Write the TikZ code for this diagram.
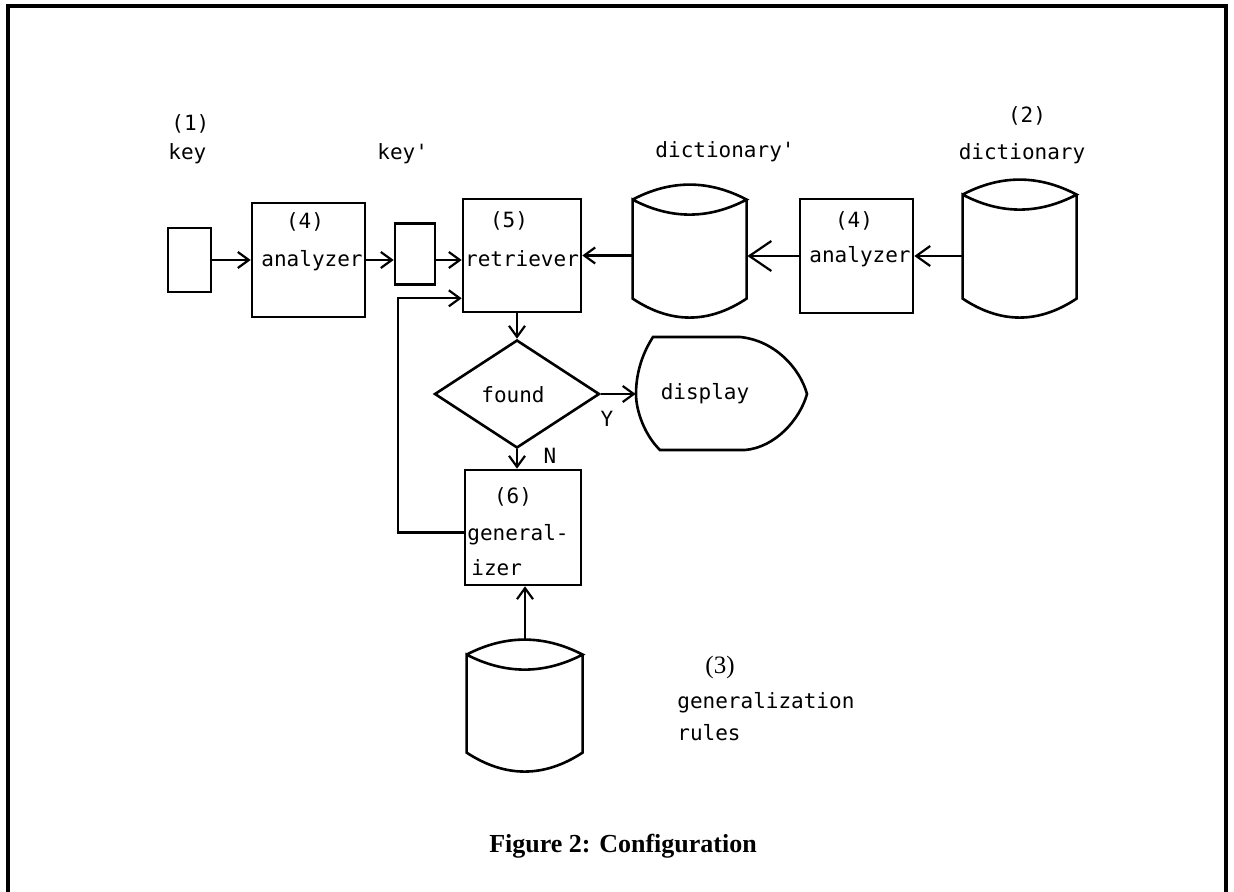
\documentclass[tikz,border=0pt]{standalone}
\usepackage{fontspec}
\setmainfont{Liberation Serif}
\newfontfamily\monof{DejaVu Sans Mono}
\usetikzlibrary{arrows.meta,shapes.geometric,calc}
\newcommand\drumshape[3]{%
  \draw[lw,shift={(#1.north west)}] (0,15) .. controls (#2/3,-5) and (2*#2/3,-5) .. (#2,15)
    .. controls (2*#2/3,35) and (#2/3,35) .. (0,15)
    -- (0,#3-19) .. controls (#2/3,#3+6.3) and (2*#2/3,#3+6.3) .. (#2,#3-19) -- (#2,15);}
\begin{document}
\begin{tikzpicture}[x=0.5pt,y=-0.5pt,
  lw/.style={line width=1.3pt},
  box/.style={draw,line width=1.3pt,inner sep=0pt,rectangle},
  hidden/.style={inner sep=0pt,rectangle},
  txt/.style={font=\monof\fontsize{10.5pt}{12pt}\selectfont,inner sep=0pt,anchor=base},
  arr/.style={line width=1.1pt,-{Straight Barb[length=5.5pt,width=8pt,line width=1.1pt]}},
  arrb/.style={line width=1.1pt,-{Straight Barb[length=7pt,width=10pt,line width=1.1pt]}},
  bigarr/.style={line width=1.1pt,-{Straight Barb[length=11pt,width=15pt,line width=1.1pt]}}]
\useasboundingbox (0,0) rectangle (1234,892);
\draw[line width=1.8pt] (8,900) -- (8,6) -- (1226,6) -- (1226,900);

% boxes
\node[box,minimum width=21.5pt,minimum height=32pt] (keyb) at (189.5,260) {};
\node[box,minimum width=56.5pt,minimum height=57pt] (an1) at (308.5,260) {};
\node[box,minimum width=20pt,minimum height=30.5pt] (keyp) at (415,254) {};
\node[box,minimum width=59pt,minimum height=56.5pt] (ret) at (522,255.5) {};
\node[draw,diamond,line width=1.3pt,inner sep=0pt,minimum width=82.5pt,minimum height=54pt] (found) at (517,394) {};
\node[hidden,minimum width=85pt,minimum height=56.5pt] (disp) at (721,393.5) {};
\node[box,minimum width=58pt,minimum height=57.5pt] (gen) at (523,527.5) {};
\node[hidden,minimum width=58pt,minimum height=66pt] (rules) at (525,706) {};
\node[hidden,minimum width=57pt,minimum height=66.5pt] (dictp) at (690,251.5) {};
\node[box,minimum width=56.5pt,minimum height=57pt] (an2) at (856.5,256) {};
\node[hidden,minimum width=57pt,minimum height=69pt] (dict) at (1020,249) {};

\drumshape{rules}{116}{132}
\drumshape{dictp}{114}{133}
\drumshape{dict}{114}{138}
\draw[lw,shift={(disp.center)}] (-68,-56.5) -- (19,-56.5)
  .. controls (54,-53) and (79,-25) .. (86,0.5)
  .. controls (79,26) and (54,54) .. (24,56.5) -- (-61,56.5)
  .. controls (-76,42) and (-85,18) .. (-85,0.5)
  .. controls (-85,-18) and (-80,-38) .. cycle;

% texts
\node[txt,anchor=base west] (t1) at (171,131) {(1)};
\node[txt,anchor=base west] (tkey) at (168,160) {key};
\node[txt,anchor=base west] (tkeyp) at (377,160) {key'};
\node[txt] (tdp) at (725,158) {dictionary'};
\node[txt] (t2) at (1027,123) {(2)};
\node[txt] (tdict) at (1022,160) {dictionary};
\node[txt] (t4a) at (305,229) {(4)};
\node[txt] (tan1) at (312,267) {analyzer};
\node[txt] (t5) at (509,228) {(5)};
\node[txt] (tret) at (522,267) {retriever};
\node[txt] (t4b) at (854,228) {(4)};
\node[txt] (tan2) at (860,263) {analyzer};
\node[txt] (tfound) at (513,402) {found};
\node[txt] (tdisp) at (705,400) {display};
\node[txt,anchor=center] (tY) at (607,419) {Y};
\node[txt,anchor=center] (tN) at (550,456) {N};
\node[txt] (t6) at (513,503) {(6)};
\node[txt,anchor=base west] (tgen) at (467,540) {general-};
\node[txt,anchor=base west] (tizer) at (471,575) {izer};
\node[font=\fontsize{12.5pt}{14pt}\selectfont,inner sep=0pt,anchor=base] (t3) at (720,673) {(3)};
\node[txt,anchor=base west] (tgr) at (677,708) {generalization};
\node[txt,anchor=base west] (trules) at (677,740) {rules};
\node[font=\bfseries\fontsize{13pt}{15pt}\selectfont,inner sep=0pt,anchor=base] (cap) at (623,852) {Figure 2: Configuration};

% connectors
\draw[arr] (keyb.east) -- (an1.west);
\draw[arr] (an1.east) -- (an1.east -| keyp.west);
\draw[arr] (an1.east -| keyp.east) -- (an1.east -| ret.west);
\draw[arr] (dictp.west |- ret.east) -- (ret.east);
\draw[bigarr] (an2.west) -- (an2.west -| dictp.east);
\draw[arrb] (dict.west |- an2.east) -- (an2.east);
\draw[arr] (found.north |- ret.south) -- (found.north);
\draw[arr] (found.east) -- (found.east -| disp.west);
\draw[arr] (found.south) -- (found.south |- gen.north);
\coordinate (retin) at ($(ret.south west)+(0,-15)$);
\coordinate (genout) at ($(gen.west)+(0,5)$);
\draw[arr] (genout) -- ++(-66,0) |- (retin);
\draw[arr] (rules.north) -- (rules.north |- gen.south);
\end{tikzpicture}
\end{document}
